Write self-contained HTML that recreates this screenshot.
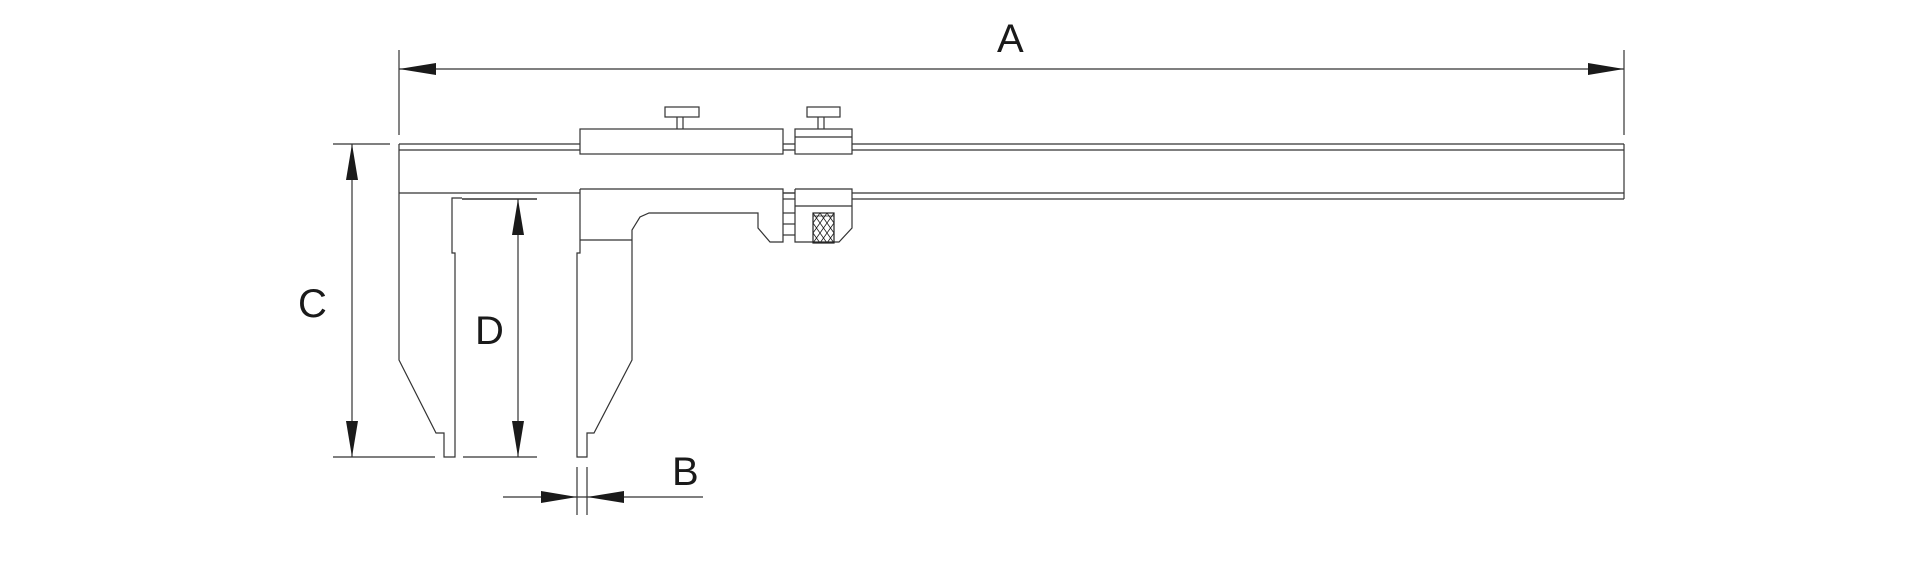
<!DOCTYPE html>
<html><head><meta charset="utf-8"><style>
html,body{margin:0;padding:0;background:#fff;width:1920px;height:572px;overflow:hidden}
svg{display:block}
text{font-family:"Liberation Sans",sans-serif;font-size:40px;fill:#1a1a1a}
</style></head><body>
<svg width="1920" height="572" viewBox="0 0 1920 572" xmlns="http://www.w3.org/2000/svg">
<g fill="none" stroke="#333" stroke-width="1.2">
<!-- A dimension -->
<line x1="399" y1="50" x2="399" y2="135"/>
<line x1="1624" y1="50" x2="1624" y2="135"/>
<line x1="399" y1="69" x2="1624" y2="69"/>
<!-- beam -->
<line x1="399" y1="144" x2="1624" y2="144"/>
<line x1="399" y1="150" x2="1624" y2="150"/>
<line x1="399" y1="193" x2="1624" y2="193"/>
<line x1="852" y1="199" x2="1624" y2="199"/>
<line x1="783" y1="199" x2="795" y2="199"/>
<line x1="1624" y1="144" x2="1624" y2="199"/>
<!-- fixed jaw -->
<polyline points="399,144 399,360 436,433 444,433 444,457 455,457 455,253 452,253 452,198 462,198"/>
<line x1="462" y1="199" x2="537" y2="199" stroke-width="1.6"/>
<!-- slider upper -->
<rect x="580" y="129" width="203" height="25" fill="#fff"/>
<rect x="665" y="107" width="34" height="10"/>
<line x1="677" y1="117" x2="677" y2="129"/>
<line x1="683" y1="117" x2="683" y2="129"/>
<rect x="795" y="129" width="57" height="25" fill="#fff"/>
<line x1="795" y1="137" x2="852" y2="137"/>
<rect x="807" y="107" width="33" height="10"/>
<line x1="818" y1="117" x2="818" y2="129"/>
<line x1="824" y1="117" x2="824" y2="129"/>
<!-- slider lower -->
<polyline points="580,189 783,189 783,242 770,242 758,228 758,213 649,213 640,217 632,230 632,360 594,433 587,433 587,457 577,457 577,253 580,253 580,189" fill="#fff"/>
<line x1="580" y1="240" x2="632" y2="240"/>
<line x1="783" y1="193" x2="795" y2="193"/>
<line x1="783" y1="213" x2="795" y2="213"/>
<line x1="783" y1="224" x2="795" y2="224"/>
<line x1="783" y1="235" x2="795" y2="235"/>
<polyline points="795,189 852,189 852,228 839,242 795,242 795,189" fill="#fff"/>
<line x1="795" y1="206" x2="852" y2="206"/>
<rect x="813" y="213" width="21" height="30" stroke="#222"/>
<path d="M813,216 L834,216 M813,213 L834,243 M820,213 L834,233 M827,213 L834,223 M813,223 L827,243 M813,233 L820,243 M834,213 L813,243 M827,213 L813,233 M820,213 L813,223 M834,223 L820,243 M834,233 L827,243" stroke="#222" stroke-width="0.8"/>
<!-- C dimension -->
<line x1="333" y1="144" x2="390" y2="144"/>
<line x1="333" y1="457" x2="435" y2="457"/>
<line x1="352" y1="144" x2="352" y2="457"/>
<!-- D dimension -->
<line x1="463" y1="457" x2="537" y2="457"/>
<line x1="518" y1="199" x2="518" y2="457"/>
<!-- B dimension -->
<line x1="577" y1="467" x2="577" y2="515"/>
<line x1="587" y1="467" x2="587" y2="515"/>
<line x1="503" y1="497" x2="703" y2="497"/>
</g>
<g fill="#1a1a1a">
<polygon points="399,69 436,63 436,75"/>
<polygon points="1624,69 1588,63 1588,75"/>
<polygon points="352,144 346,180 358,180"/>
<polygon points="352,457 346,421 358,421"/>
<polygon points="518,199 512,235 524,235"/>
<polygon points="518,457 512,421 524,421"/>
<polygon points="577,497 541,491 541,503"/>
<polygon points="587,497 624,491 624,503"/>
</g>
<text x="997" y="52">A</text>
<text x="672" y="485">B</text>
<text x="298" y="317">C</text>
<text x="475" y="344">D</text>
</svg>
</body></html>
